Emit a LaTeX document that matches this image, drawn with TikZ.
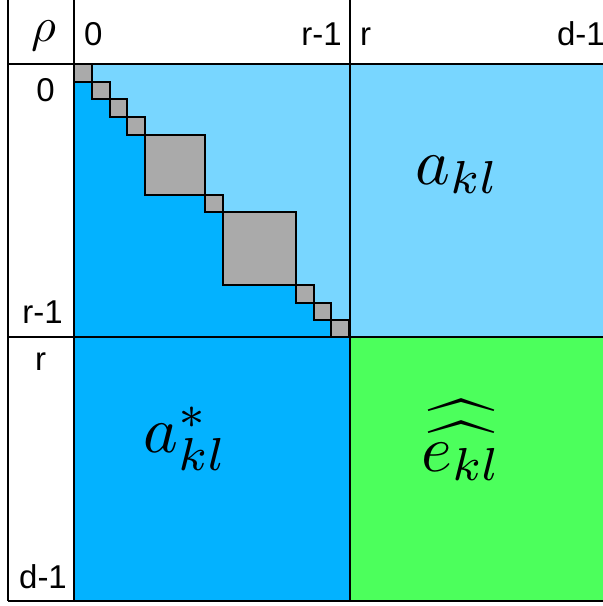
\documentclass[tikz,border=0pt]{standalone}
\usepackage{fontspec}
\setmainfont{Liberation Sans}
\definecolor{lightblue}{HTML}{78D6FF}
\definecolor{midblue}{HTML}{03B2FF}
\definecolor{greenfill}{HTML}{4CFF5C}
\definecolor{graysq}{HTML}{AAAAAA}
\tikzset{
  gridline/.style={draw=black, line width=2pt},
  sqbox/.style={fill=graysq, draw=black, line width=2.4pt},
  lbl/.style={inner sep=0pt, font=\fontsize{33}{38}\selectfont},
  bigmath/.style={inner sep=0pt, font=\fontsize{10}{12}\selectfont, scale=6.6}
}
\begin{document}
\begin{tikzpicture}[x=1pt,y=-1pt]
\useasboundingbox (0,0) rectangle (603,606);
\fill[white] (0,0) rectangle (603,606);
% blocks
\fill[lightblue] (74,64) rectangle (630,337);
\fill[midblue] (74,82) -- (92,82) -- (92,99) -- (110,99) -- (110,117) -- (127,117) -- (127,135) -- (145,135) -- (145,195) -- (205,195) -- (205,212) -- (223,212) -- (223,285) -- (296,285) -- (296,303) -- (314,303) -- (314,320) -- (331,320) -- (331,337) -- (74,337) -- cycle;
\fill[midblue] (74,337) rectangle (350,601);
\fill[greenfill] (350,337) rectangle (630,601);
% diagonal blocks
\foreach \xa/\ya/\xb/\yb in {74/64/92/82, 92/82/110/99, 110/99/127/117, 127/117/145/135, 145/135/205/195, 205/195/223/212, 223/212/296/285, 296/285/314/303, 314/303/331/320, 331/320/349/337}
  \draw[sqbox] (\xa,\ya) rectangle (\xb,\yb);
% grid lines
\draw[gridline] (8,-5) -- (8,601);
\draw[gridline] (74,-5) -- (74,601);
\draw[gridline] (350,-5) -- (350,601);
\draw[gridline] (8,64) -- (630,64);
\draw[gridline] (8,337) -- (630,337);
\draw[gridline] (8,601) -- (630,601);
% header labels
\node[inner sep=0pt, font=\fontsize{10}{12}\selectfont, scale=4.8] (rho) at (43.5,36) {$\rho$};
\node[lbl, anchor=base west] (c0) at (84,45) {0};
\node[lbl, anchor=base east] (cr1) at (342,45) {r-1};
\node[lbl, anchor=base west] (cr) at (360,45) {r};
\node[lbl, anchor=base east] (cd1) at (605,45) {d-1};
% row labels
\node[lbl, anchor=base] (r0) at (45.5,101) {0};
\node[lbl, anchor=base] (rr1) at (42.5,323) {r-1};
\node[lbl, anchor=base] (rr) at (40.5,370) {r};
\node[lbl, anchor=base] (rd1) at (43,588) {d-1};
% block labels
\node[bigmath, anchor=base west] (akl) at (414,184) {$a_{kl}$};
\node[bigmath, anchor=base west] (astar) at (142,452) {$a^{*}_{kl}$};
\node[bigmath, anchor=base west] (ekl) at (420,471) {$\widehat{\widehat{e_{kl}}}$};
\end{tikzpicture}
\end{document}
